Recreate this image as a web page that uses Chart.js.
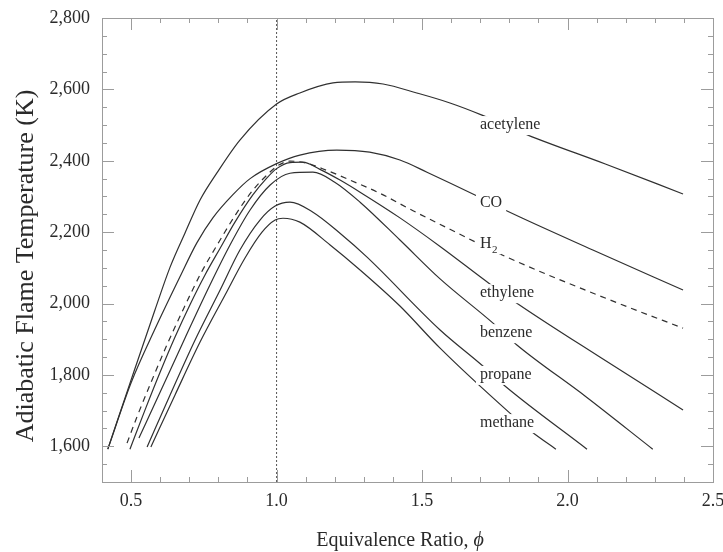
<!DOCTYPE html>
<html>
<head>
<meta charset="utf-8">
<script src="https://cdn.jsdelivr.net/npm/chart.js@4.4.1/dist/chart.umd.min.js"></script>
<style>
html,body{margin:0;padding:0;background:#fff;}
#wrap{width:723px;height:552px;position:relative;}
</style>
</head>
<body>
<div id="wrap"><canvas id="c" width="723" height="552"></canvas></div>
<script>
// ---- data: [equivalence ratio, adiabatic flame temperature (K)] ----
const acetylene = [[0.42,1592],[0.50,1786],[0.582,1982],[0.634,2102],[0.685,2197],[0.737,2290],[0.795,2366],[0.874,2458],[1.0,2559],[1.08,2590],[1.194,2618],[1.27,2621],[1.366,2615],[1.482,2590],[1.596,2562],[1.706,2528],[1.864,2472],[2.13,2391],[2.397,2307]];
const co = [[0.42,1592],[0.50,1778],[0.58,1925],[0.668,2075],[0.726,2170],[0.781,2240],[0.85,2305],[0.909,2350],[1.0,2392],[1.08,2416],[1.207,2430],[1.32,2424],[1.424,2402],[1.517,2368],[1.682,2304],[1.785,2262],[2.087,2150],[2.397,2038]];
const hydrogen = [[0.486,1609],[0.52,1682],[0.572,1786],[0.623,1884],[0.68,1985],[0.74,2085],[0.80,2170],[0.86,2250],[0.919,2318],[0.967,2360],[1.0,2384],[1.046,2399],[1.10,2394],[1.173,2373],[1.252,2346],[1.355,2309],[1.469,2260],[1.596,2208],[1.792,2130],[2.146,2010],[2.397,1931]];
const ethylene = [[0.496,1592],[0.548,1702],[0.60,1808],[0.651,1906],[0.702,1996],[0.754,2080],[0.806,2155],[0.857,2228],[0.919,2305],[0.967,2352],[1.0,2378],[1.046,2395],[1.09,2396],[1.149,2376],[1.218,2346],[1.287,2312],[1.424,2240],[1.562,2160],[1.733,2055],[1.826,2001],[2.111,1850],[2.397,1702]];
const benzene = [[0.527,1623],[0.60,1752],[0.685,1903],[0.771,2052],[0.84,2164],[0.909,2262],[0.978,2332],[1.046,2365],[1.125,2368],[1.20,2340],[1.287,2284],[1.424,2178],[1.562,2069],[1.744,1945],[1.826,1884],[2.06,1741],[2.293,1592]];
const propane = [[0.555,1598],[0.634,1744],[0.72,1898],[0.806,2038],[0.874,2150],[0.943,2234],[0.995,2273],[1.046,2284],[1.125,2256],[1.218,2197],[1.311,2130],[1.562,1926],[1.709,1825],[1.785,1769],[2.067,1592]];
const methane = [[0.568,1598],[0.651,1744],[0.737,1892],[0.823,2024],[0.891,2127],[0.95,2200],[0.995,2234],[1.022,2239],[1.08,2228],[1.184,2164],[1.287,2094],[1.424,1993],[1.562,1875],[1.802,1693],[1.878,1640],[1.96,1592]];
const stoichLine = [[1.0,1500],[1.0,2800]];

const seriesNames = ['acetylene','CO','H₂','ethylene','benzene','propane','methane'];
const seriesData  = [acetylene, co, hydrogen, ethylene, benzene, propane, methane];
const labelPhi = [1.699,1.699,1.699,1.699,1.699,1.699,1.699];
const labelT   = [2500,2281,2166,2029,1917,1800,1665];

const xTicks = [0.5,1.0,1.5,2.0,2.5];
const yTicks = [1600,1800,2000,2200,2400,2600,2800];
const xMin = 0.4, xMax = 2.5, yMin = 1500, yMax = 2800;
const xTitleText = 'Equivalence Ratio, ';
const xTitleSymbol = 'ϕ';
const yTitle = 'Adiabatic Flame Temperature (K)';

const SERIF = '"Liberation Serif","Times New Roman",serif';
const INK = '#2a2a2a';
const AXIS = '#9c9c9c';

const toXY = arr => arr.map(p => ({x:p[0], y:p[1]}));

const datasets = seriesData.map((d,i) => ({
  label: seriesNames[i],
  data: toXY(d),
  showLine: true,
  borderColor: '#303030',
  borderWidth: 1.2,
  borderDash: seriesNames[i] === 'H₂' ? [6,5] : [],
  pointRadius: 0,
  fill: false,
  cubicInterpolationMode: 'monotone'
}));
datasets.push({
  label: 'φ = 1',
  data: toXY(stoichLine),
  showLine: true,
  borderColor: '#555',
  borderWidth: 1,
  borderDash: [2,2],
  pointRadius: 0,
  fill: false
});

const decor = {
  id: 'decor',
  afterDatasetsDraw(chart) {
    const {ctx, scales:{x, y}} = chart;
    ctx.save();
    ctx.textBaseline = 'middle';
    ctx.textAlign = 'left';
    seriesNames.forEach((name, i) => {
      const px = x.getPixelForValue(labelPhi[i]);
      const py = y.getPixelForValue(labelT[i]);
      const parts = name.split('₂');
      ctx.font = '16px ' + SERIF;
      let w = ctx.measureText(parts[0]).width;
      let subW = 0;
      if (parts.length > 1) { ctx.font = '11px ' + SERIF; subW = ctx.measureText('2').width; }
      ctx.fillStyle = '#fff';
      ctx.fillRect(px - 4, py - 9, w + subW + 8, 19);
      ctx.fillStyle = INK;
      ctx.font = '16px ' + SERIF;
      ctx.fillText(parts[0], px, py);
      if (parts.length > 1) {
        ctx.font = '11px ' + SERIF;
        ctx.fillText('2', px + w + 0.5, py + 6);
      }
    });
    ctx.restore();
  },
  afterDraw(chart) {
    const {ctx, chartArea:a, scales:{x, y}} = chart;
    ctx.save();
    ctx.strokeStyle = AXIS;
    ctx.lineWidth = 1;
    ctx.strokeRect(Math.round(a.left)+0.5, Math.round(a.top)+0.5, Math.round(a.right-a.left), Math.round(a.bottom-a.top));
    ctx.beginPath();
    for (let i = 5; i <= 24; i++) {
      const v = i/10;
      const px = Math.round(x.getPixelForValue(v)) + 0.5;
      const len = (i % 5 === 0) ? 12 : 5;
      ctx.moveTo(px, a.bottom); ctx.lineTo(px, a.bottom - len);
      ctx.moveTo(px, a.top); ctx.lineTo(px, a.top + len);
    }
    for (let v = 1550; v <= 2750; v += 50) {
      const py = Math.round(y.getPixelForValue(v)) + 0.5;
      const len = (v % 200 === 0) ? 12 : 5;
      ctx.moveTo(a.left, py); ctx.lineTo(a.left + len, py);
      ctx.moveTo(a.right, py); ctx.lineTo(a.right - len, py);
    }
    ctx.stroke();
    // axis titles
    ctx.fillStyle = INK;
    ctx.textBaseline = 'middle';
    ctx.textAlign = 'left';
    ctx.font = '20px ' + SERIF;
    const w1 = ctx.measureText(xTitleText).width;
    ctx.font = 'italic 20px ' + SERIF;
    const w2 = ctx.measureText(xTitleSymbol).width;
    const x0 = 400 - (w1 + w2) / 2;
    ctx.font = '20px ' + SERIF;
    ctx.fillText(xTitleText, x0, 541);
    ctx.font = 'italic 20px ' + SERIF;
    ctx.fillText(xTitleSymbol, x0 + w1, 541);
    ctx.textAlign = 'center';
    ctx.translate(26, 266);
    ctx.rotate(-Math.PI/2);
    ctx.font = '26px ' + SERIF;
    ctx.fillText(yTitle, 0, 0);
    ctx.restore();
  }
};

new Chart(document.getElementById('c'), {
  type: 'scatter',
  data: { datasets },
  options: {
    responsive: false,
    animation: false,
    devicePixelRatio: 1,
    layout: { padding: { top: 18, right: 10, left: 0, bottom: 0 } },
    plugins: { legend: { display: false }, tooltip: { enabled: false } },
    scales: {
      x: {
        type: 'linear', min: xMin, max: xMax,
        grid: { display: false, drawTicks: false },
        border: { display: false },
        afterBuildTicks: s => { s.ticks = xTicks.map(v => ({value: v})); },
        afterFit: s => { s.height = 70; s.paddingLeft = 0; s.paddingRight = 0; },
        ticks: { font: { family: SERIF, size: 18 }, color: INK, padding: 8, maxRotation: 0, autoSkip: false,
                 callback: v => Number(v).toFixed(1) },
        title: { display: false }
      },
      y: {
        type: 'linear', min: yMin, max: yMax,
        grid: { display: false, drawTicks: false },
        border: { display: false },
        afterBuildTicks: s => { s.ticks = yTicks.map(v => ({value: v})); },
        afterFit: s => { s.width = 102; s.paddingTop = 0; s.paddingBottom = 0; },
        ticks: { font: { family: SERIF, size: 18 }, color: INK, padding: 12,
                 callback: v => Number(v).toLocaleString('en-US') },
        title: { display: false }
      }
    }
  },
  plugins: [decor]
});
</script>
</body>
</html>
